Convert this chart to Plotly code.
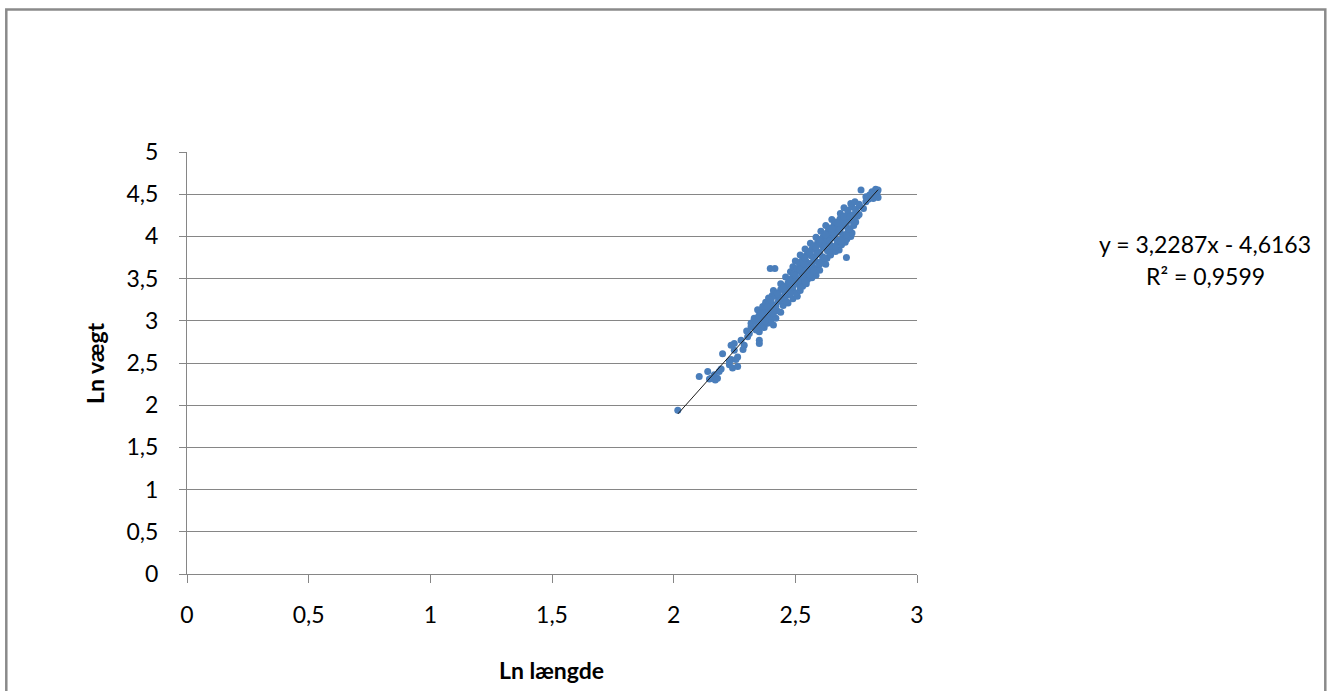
import plotly.graph_objects as go

# ---- data ----
ln_length = [
    2.017, 2.105, 2.140, 2.154, 2.167, 2.180, 2.187, 2.195, 2.171, 2.147,
    2.201, 2.229, 2.236, 2.242, 2.229, 2.256, 2.263, 2.236, 2.249,
    2.249, 2.263, 2.277, 2.290, 2.304, 2.311, 2.352, 2.352, 2.285,
    2.300, 2.318, 2.335, 2.352, 2.372, 2.339, 2.359,
    2.318, 2.330, 2.345, 2.362, 2.386, 2.400, 2.410,
    2.331, 2.350, 2.366, 2.379, 2.392, 2.405, 2.420,
    2.345, 2.360, 2.375, 2.390, 2.408, 2.425, 2.440,
    2.366, 2.378, 2.393, 2.410, 2.430, 2.450, 2.470, 2.413,
    2.390, 2.405, 2.420, 2.435, 2.452, 2.470, 2.490, 2.508,
    2.410, 2.425, 2.440, 2.458, 2.475, 2.490, 2.505, 2.520,
    2.440, 2.455, 2.470, 2.485, 2.500, 2.515, 2.530, 2.545,
    2.460, 2.476, 2.490, 2.505, 2.520, 2.535, 2.550, 2.568,
    2.480, 2.495, 2.510, 2.525, 2.540, 2.555, 2.570, 2.585,
    2.490, 2.507, 2.522, 2.538, 2.553, 2.568, 2.583, 2.600, 2.397, 2.416,
    2.500, 2.515, 2.530, 2.545, 2.560, 2.578, 2.595, 2.610, 2.625,
    2.520, 2.535, 2.550, 2.565, 2.580, 2.597, 2.612, 2.630, 2.645,
    2.540, 2.555, 2.570, 2.585, 2.600, 2.615, 2.632, 2.648, 2.665, 2.680,
    2.562, 2.578, 2.592, 2.608, 2.625, 2.640, 2.655, 2.672, 2.690, 2.705,
    2.585, 2.600, 2.615, 2.630, 2.648, 2.662, 2.678, 2.695, 2.712, 2.728,
    2.605, 2.620, 2.636, 2.652, 2.668, 2.683, 2.700, 2.717, 2.733,
    2.625, 2.642, 2.660, 2.676, 2.692, 2.708, 2.724, 2.740,
    2.650, 2.667, 2.684, 2.700, 2.716, 2.732, 2.748, 2.735,
    2.685, 2.700, 2.716, 2.732, 2.748, 2.762,
    2.700, 2.716, 2.732, 2.748, 2.764, 2.780,
    2.728, 2.745, 2.762, 2.790, 2.800,
    2.770, 2.790, 2.805, 2.815, 2.825, 2.830, 2.836, 2.840, 2.840, 2.820,
    2.710,
    2.400, 2.440, 2.462, 2.430, 2.480, 2.460, 2.450, 2.490, 2.520,
    2.478, 2.510, 2.540, 2.500, 2.530, 2.560, 2.520, 2.545, 2.575,
    2.535, 2.570, 2.600, 2.540, 2.575, 2.620, 2.560, 2.590, 2.640,
    2.585, 2.620, 2.665, 2.600, 2.640, 2.688, 2.625, 2.660, 2.710,
    2.650, 2.685, 2.720, 2.675, 2.710, 2.740, 2.700, 2.725, 2.755,
    2.385, 2.420, 2.360, 2.410, 2.350, 2.375,
]
ln_weight = [
    1.94, 2.34, 2.40, 2.32, 2.36, 2.32, 2.40, 2.43, 2.30, 2.31,
    2.61, 2.48, 2.54, 2.44, 2.52, 2.54, 2.46, 2.71, 2.65,
    2.73, 2.57, 2.77, 2.71, 2.81, 2.85, 2.77, 2.73, 2.66,
    2.88, 2.93, 2.91, 2.87, 2.92, 2.89, 2.93,
    2.97, 3.00, 2.96, 2.99, 2.97, 3.01, 2.95,
    3.03, 3.06, 3.04, 3.07, 3.05, 3.08, 3.03,
    3.13, 3.10, 3.14, 3.11, 3.15, 3.12, 3.10,
    3.17, 3.22, 3.21, 3.19, 3.23, 3.18, 3.21, 3.15,
    3.27, 3.30, 3.29, 3.26, 3.28, 3.31, 3.26, 3.29,
    3.36, 3.33, 3.37, 3.34, 3.38, 3.35, 3.33, 3.36,
    3.44, 3.41, 3.45, 3.42, 3.46, 3.43, 3.41, 3.44,
    3.52, 3.49, 3.53, 3.50, 3.48, 3.52, 3.49, 3.51,
    3.58, 3.56, 3.60, 3.57, 3.55, 3.59, 3.56, 3.54,
    3.64, 3.62, 3.66, 3.63, 3.61, 3.65, 3.62, 3.60, 3.62, 3.62,
    3.71, 3.69, 3.73, 3.70, 3.68, 3.72, 3.69, 3.71, 3.67,
    3.78, 3.76, 3.80, 3.77, 3.75, 3.79, 3.76, 3.74, 3.78,
    3.85, 3.82, 3.86, 3.84, 3.81, 3.87, 3.83, 3.85, 3.82, 3.84,
    3.92, 3.89, 3.93, 3.90, 3.94, 3.91, 3.88, 3.92, 3.90, 3.93,
    3.99, 3.96, 4.00, 3.97, 4.01, 3.98, 3.95, 3.99, 3.97, 4.00,
    4.06, 4.03, 4.07, 4.04, 4.08, 4.05, 4.02, 4.06, 4.04,
    4.13, 4.10, 4.14, 4.11, 4.15, 4.12, 4.09, 4.13,
    4.20, 4.17, 4.21, 4.18, 4.22, 4.19, 4.17, 4.23,
    4.27, 4.24, 4.28, 4.25, 4.29, 4.26,
    4.34, 4.31, 4.35, 4.32, 4.36, 4.33,
    4.39, 4.41, 4.38, 4.41, 4.44,
    4.55, 4.47, 4.49, 4.53, 4.48, 4.56, 4.52, 4.55, 4.46, 4.45,
    3.75,
    3.245, 3.25, 3.235, 3.315, 3.32, 3.32, 3.39, 3.395, 3.40,
    3.47, 3.465, 3.47, 3.54, 3.535, 3.545, 3.605, 3.60, 3.595,
    3.675, 3.68, 3.67, 3.745, 3.74, 3.745, 3.81, 3.805, 3.81,
    3.875, 3.88, 3.875, 3.945, 3.95, 3.945, 4.02, 4.025, 4.02,
    4.09, 4.09, 4.085, 4.16, 4.155, 4.16, 4.23, 4.235, 4.24,
    3.165, 3.17, 3.085, 3.09, 3.02, 2.995,
]
slope = 3.2287
intercept = -4.6163
r_squared = 0.9599
x_ticks = [0, 0.5, 1, 1.5, 2, 2.5, 3]
x_tick_labels = ["0", "0,5", "1", "1,5", "2", "2,5", "3"]
y_ticks = [0, 0.5, 1, 1.5, 2, 2.5, 3, 3.5, 4, 4.5, 5]
y_tick_labels = ["0", "0,5", "1", "1,5", "2", "2,5", "3", "3,5", "4", "4,5", "5"]

FONT = "Lato, 'Open Sans', sans-serif"
FS = 23
GREY = "#868686"

fig = go.Figure()
fig.add_trace(go.Scatter(
    x=ln_length, y=ln_weight, mode="markers",
    marker=dict(color="#4A7EBB", size=7, line=dict(width=0)),
    showlegend=False, hoverinfo="x+y",
))
x0, x1 = min(ln_length), max(ln_length)
fig.add_trace(go.Scatter(
    x=[x0, x1], y=[slope * x0 + intercept, slope * x1 + intercept],
    mode="lines", line=dict(color="#1a1a1a", width=1),
    showlegend=False, hoverinfo="skip",
))

W, H = 1330, 691
L, R, T, B = 187, 917, 152, 574
pw, ph = R - L, B - T

def px_x(p):
    return (p - L) / pw

def px_y(p):
    return (B - p) / ph

def fmt(v):
    return str(v).replace(".", ",")

fig.update_layout(
    width=W, height=H,
    margin=dict(l=L, r=W - R, t=T, b=H - B, pad=0),
    paper_bgcolor="white", plot_bgcolor="white",
    font=dict(family=FONT, size=FS, color="#000000"),
    xaxis=dict(
        range=[0, 3], tickvals=x_ticks, ticktext=x_tick_labels,
        showgrid=False, zeroline=False, showline=True, linecolor=GREY, linewidth=1,
        ticks="outside", ticklen=8, tickcolor=GREY, tickwidth=1,
        ticklabelstandoff=12,
        fixedrange=True,
    ),
    yaxis=dict(
        range=[0, 5], tickvals=y_ticks, ticktext=y_tick_labels,
        showgrid=True, gridcolor=GREY, gridwidth=1,
        zeroline=False, showline=True, linecolor=GREY, linewidth=1,
        ticks="outside", ticklen=7, tickcolor=GREY, tickwidth=1,
        ticklabelstandoff=16,
        fixedrange=True,
    ),
    shapes=[dict(
        type="rect", xref="paper", yref="paper",
        x0=px_x(6.3), x1=px_x(1325.3), y0=px_y(720), y1=px_y(9.5),
        line=dict(color="#8a8a8a", width=2.5), fillcolor="rgba(0,0,0,0)", layer="below",
    )],
    annotations=[
        dict(xref="paper", yref="paper", x=px_x(551), y=px_y(670),
             text="<b>Ln længde</b>", showarrow=False,
             xanchor="center", yanchor="middle"),
        dict(xref="paper", yref="paper", x=px_x(95), y=px_y(363),
             text="<b>Ln vægt</b>", showarrow=False, textangle=-90,
             xanchor="center", yanchor="middle"),
        dict(xref="paper", yref="paper", x=px_x(1205), y=px_y(244),
             text=f"y = {fmt(slope)}x - {fmt(-intercept)}",
             showarrow=False, xanchor="center", yanchor="middle"),
        dict(xref="paper", yref="paper", x=px_x(1205), y=px_y(276),
             text=f"R² = {fmt(r_squared)}",
             showarrow=False, xanchor="center", yanchor="middle"),
    ],
)

fig.write_html(
    "out.html",
    config={"displayModeBar": False},
    post_script="document.body.style.margin='0';document.body.style.overflow='hidden';",
)
